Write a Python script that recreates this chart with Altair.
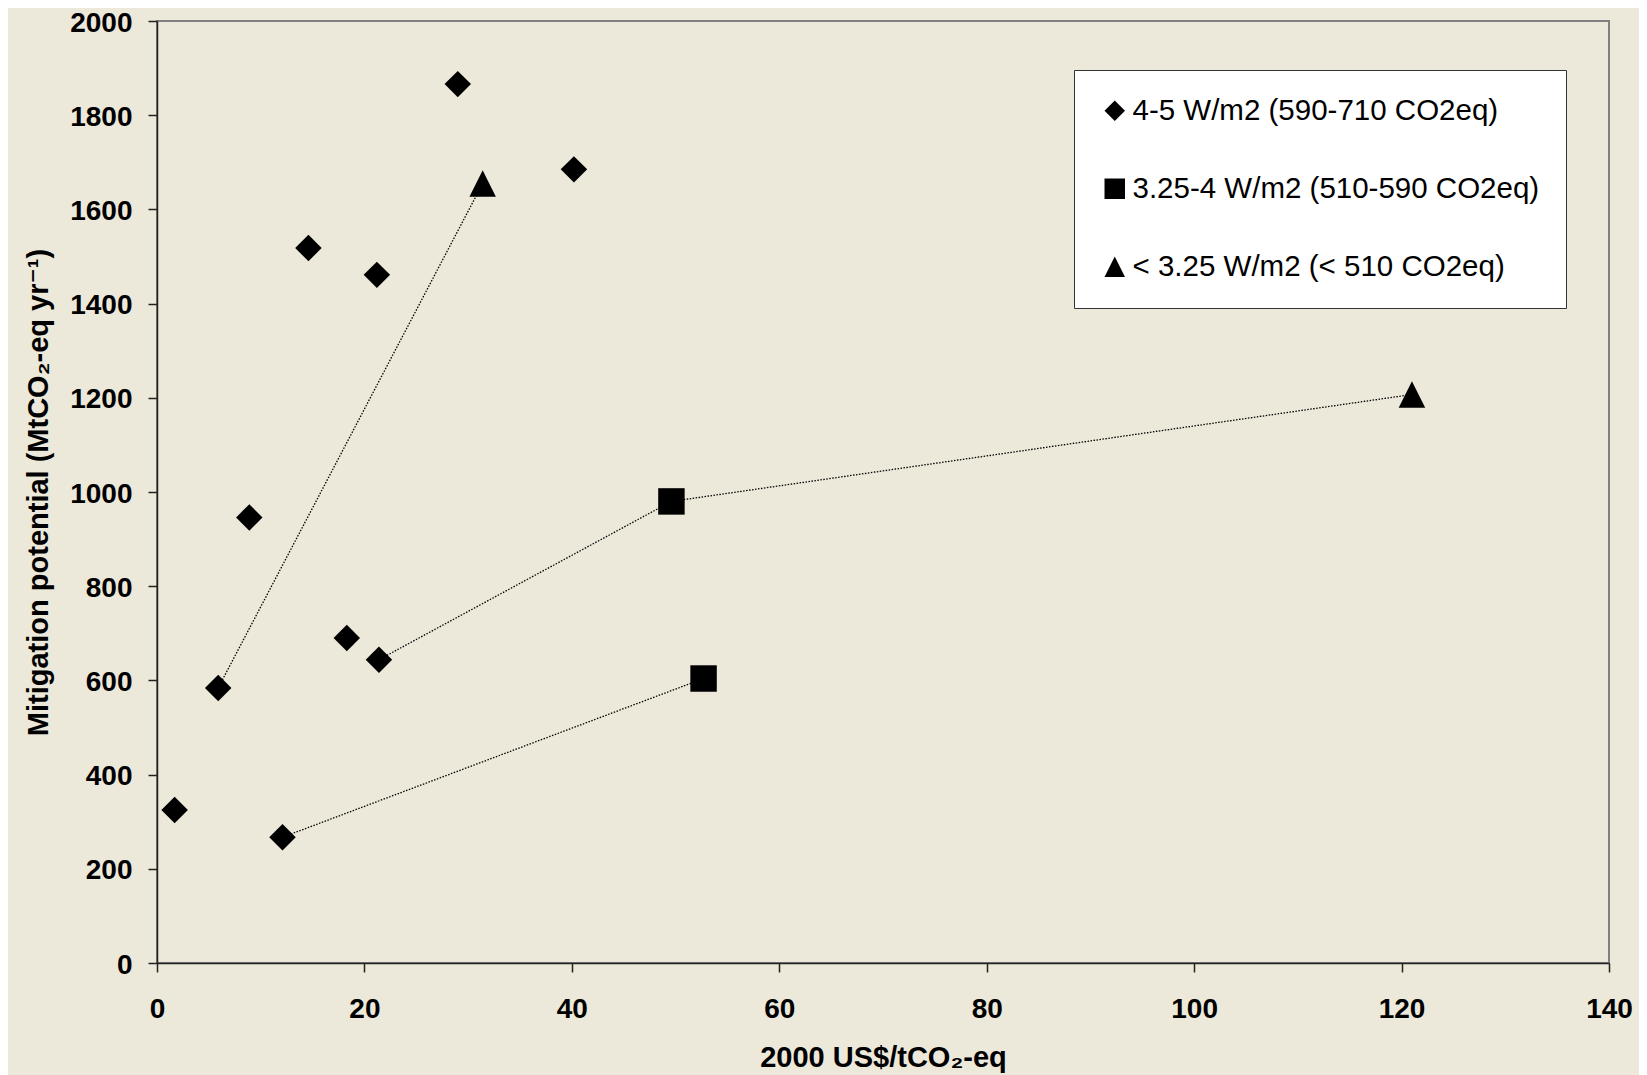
import altair as alt
import pandas as pd

# ---------------- data ----------------
series_names = [
    "4-5 W/m2 (590-710 CO2eq)",
    "3.25-4 W/m2 (510-590 CO2eq)",
    "< 3.25 W/m2 (< 510 CO2eq)",
]

diamond_x = [1.7, 5.9, 8.9, 12.1, 14.6, 18.3, 21.2, 21.4, 29.0, 40.2]
diamond_y = [325, 584, 946, 267, 1518, 690, 1461, 644, 1866, 1685]

square_x = [49.6, 52.7]
square_y = [980, 604]

triangle_x = [31.4, 121.0]
triangle_y = [1655, 1207]

# dotted connector lines (group id, order within group)
line_id = ["a", "a", "b", "b", "b", "c", "c"]
line_order = [0, 1, 0, 1, 2, 0, 1]
line_x = [5.9, 31.4, 21.4, 49.6, 121.0, 12.1, 52.7]
line_y = [584, 1655, 644, 980, 1207, 267, 604]

x_ticks = [0, 20, 40, 60, 80, 100, 120, 140]
y_ticks = [0, 200, 400, 600, 800, 1000, 1200, 1400, 1600, 1800, 2000]

x_title = "2000 US$/tCO₂-eq"
y_title = "Mitigation potential (MtCO₂-eq yr⁻¹)"

# ---------------- tables ----------------
points = pd.DataFrame({
    "x": diamond_x + square_x + triangle_x,
    "y": diamond_y + square_y + triangle_y,
    "series": [series_names[0]] * len(diamond_x)
    + [series_names[1]] * len(square_x)
    + [series_names[2]] * len(triangle_x),
})

lines = pd.DataFrame({"line": line_id, "order": line_order, "x": line_x, "y": line_y})

FONT = "Liberation Sans, Arial, DejaVu Sans, sans-serif"

x_enc = alt.X(
    "x:Q",
    scale=alt.Scale(domain=[0, 140], nice=False, zero=False),
    axis=alt.Axis(values=x_ticks, title=x_title, format="d", labelPadding=23,
                  titlePadding=20, labelFlush=False, labelOverlap=False),
)
y_enc = alt.Y(
    "y:Q",
    scale=alt.Scale(domain=[0, 2000], nice=False),
    axis=alt.Axis(values=y_ticks, title=y_title, format="d", labelPadding=16,
                  labelOffset=2, titlePadding=16, labelFlush=False,
                  labelOverlap=False),
)

line_layer = alt.Chart(lines).mark_line(
    color="black", strokeDash=[1.5, 1.5], strokeWidth=1.3
).encode(x=x_enc, y=y_enc, detail="line:N", order="order:Q")

point_layer = alt.Chart(points).mark_point(
    filled=True, size=700, opacity=1, color="black"
).encode(
    x=x_enc,
    y=y_enc,
    shape=alt.Shape(
        "series:N",
        scale=alt.Scale(domain=series_names,
                        range=["diamond", "square", "M0,-1L1,1L-1,1Z"]),
        legend=alt.Legend(
            title=None, orient="none", legendX=917, legendY=49,
            fillColor="white", strokeColor="#333333", padding=26,
            symbolSize=420, symbolFillColor="black", symbolStrokeColor="black",
            symbolStrokeWidth=0, labelFont=FONT, labelFontSize=29.5,
            labelColor="black", labelOffset=3, rowPadding=47, labelLimit=0,
        ),
    ),
)

chart = (
    alt.layer(line_layer, point_layer)
    .properties(
        width=1452, height=942, background="#ece8da",
        autosize=alt.AutoSizeParams(type="none"),
        padding={"left": 149, "top": 13, "right": 30, "bottom": 112},
    )
    .configure_view(stroke="#808080", strokeWidth=2)
    .configure_axis(
        grid=False, domainColor="#222222", domainWidth=1.5,
        tickColor="#222222", tickWidth=1.5, tickSize=9,
        labelFont=FONT, labelFontWeight="bold", labelFontSize=28, labelColor="black",
        titleFont=FONT, titleFontWeight="bold", titleFontSize=29, titleColor="black",
    )
)

chart.save("out.html", embed_options={"renderer": "svg", "actions": False})
